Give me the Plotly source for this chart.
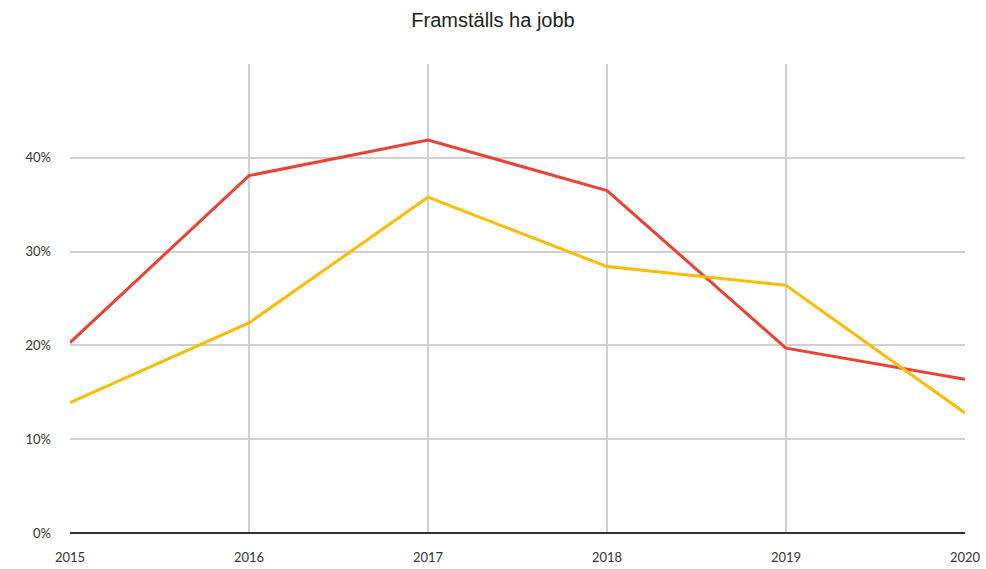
import plotly.graph_objects as go

years = [2015, 2016, 2017, 2018, 2019, 2020]
red_values = [0.203, 0.381, 0.419, 0.365, 0.197, 0.164]
yellow_values = [0.139, 0.224, 0.358, 0.284, 0.264, 0.128]
y_ticks = [0, 0.1, 0.2, 0.3, 0.4]

fig = go.Figure()

fig.add_trace(go.Scatter(
    x=years, y=red_values, mode='lines',
    line=dict(color='#ea4335', width=3), showlegend=False
))
fig.add_trace(go.Scatter(
    x=years, y=yellow_values, mode='lines',
    line=dict(color='#fbbc04', width=3), showlegend=False
))

fig.update_layout(
    title=dict(text="Framställs ha jobb", x=0.5, xref='container', xanchor='center',
               y=0.965, yref='container', yanchor='middle',
               font=dict(family="Liberation Sans, Arial", size=20, color='#222')),
    width=986, height=569,
    margin=dict(l=70, r=21, t=64, b=36),
    plot_bgcolor='white', paper_bgcolor='white',
    font=dict(family="Lato, Open Sans", size=13, color='#333'),
)

fig.update_xaxes(
    range=[2015, 2020], tickvals=years, ticktext=[str(y) for y in years],
    showgrid=True, gridcolor='#d0d0d0', gridwidth=1.5,
    zeroline=False, showline=False, ticks='', ticklabelstandoff=15,
    automargin=False
)
fig.update_yaxes(
    range=[0, 0.5], tickvals=y_ticks, tickformat='.0%',
    showgrid=True, gridcolor='#d0d0d0', gridwidth=1.5,
    zeroline=True, zerolinecolor='#333', zerolinewidth=1.5,
    showline=False, ticks='', ticklabelstandoff=18,
    automargin=False
)

# drop the default page margin so the figure fills the window exactly
fig.write_html("out.html", config={'displayModeBar': False},
               post_script="document.body.style.margin = '0';")
